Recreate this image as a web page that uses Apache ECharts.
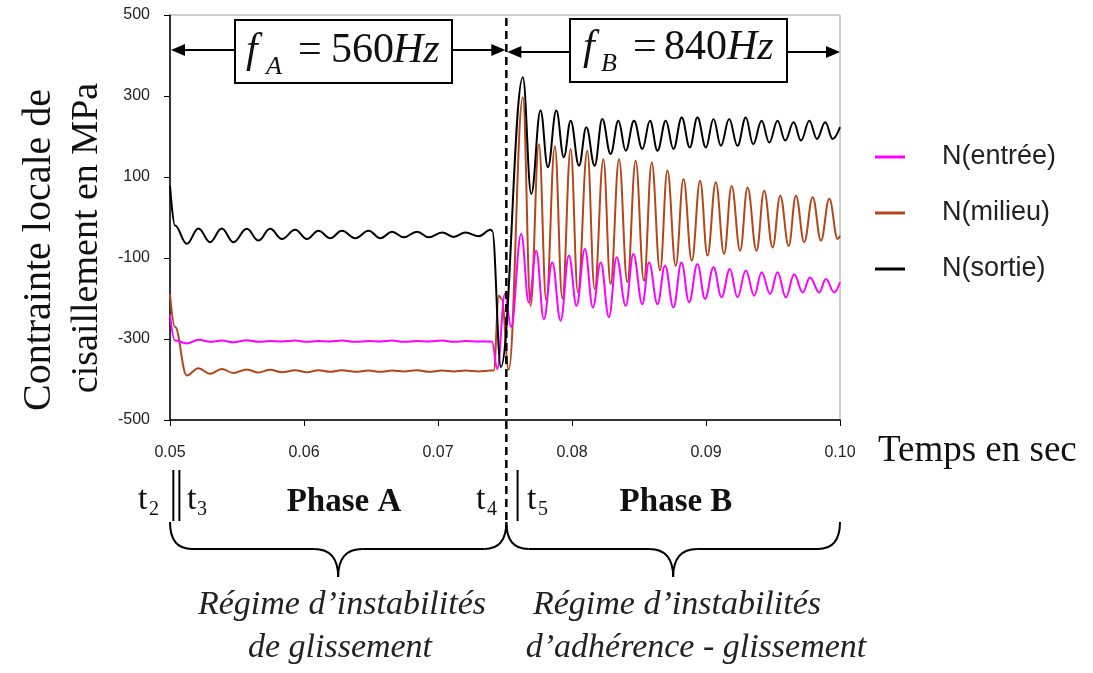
<!DOCTYPE html>
<html><head><meta charset="utf-8">
<script src="https://cdn.jsdelivr.net/npm/echarts@6/dist/echarts.min.js"></script>
<style>html,body{margin:0;padding:0;background:#fff}#c{width:1093px;height:673px}</style>
</head><body><div id="c"></div>
<script>
// ---- data (time in s, stress in MPa) ----
const xTickLabels = ['0.05','0.06','0.07','0.08','0.09','0.10'];
const seriesNames = ['N(entrée)','N(milieu)','N(sortie)'];

// Phase A sample times (shared)
const tPhaseA = [0.05000,0.05037,0.05125,0.05212,0.05299,0.05386,0.05473,0.05573,0.05660,0.05747,0.05835,0.05934,0.06022,0.06108,0.06196,0.06283,0.06383,0.06482,0.06570,0.06657,0.06744,0.06844,0.06931,0.07031,0.07117,0.07205,0.07304,0.07392];

const sortieA = [78,-20,-65,-27,-61,-27,-61,-28,-57,-28,-53,-30,-53,-33,-51,-33,-51,-33,-51,-35,-49,-35,-49,-37,-48,-37,-46,-30];
const milieuA = [-189,-270,-390,-372,-386,-374,-384,-375,-383,-376,-382,-377,-382,-377,-381,-377,-381,-378,-381,-378,-380,-377,-381,-378,-380,-378,-380,-378];
const entreeA = [-240,-304,-311,-302,-307,-304,-308,-303,-307,-305,-306,-304,-307,-305,-306,-304,-307,-305,-306,-304,-307,-305,-306,-304,-307,-305,-306,-306];

// Transition + phase B
const sortieTB = [0.07404,0.07470,0.07633,0.07696,0.07765,0.07820,0.07883,0.07939,0.07990,0.08052,0.08107,0.08169,0.08226,0.08288,0.08346,0.08401,0.08463,0.08525,0.08582,0.08638,0.08700,0.08757,0.08819,0.08879,0.08936,0.08999,0.09056,0.09111,0.09173,0.09235,0.09297,0.09352,0.09415,0.09472,0.09534,0.09591,0.09654,0.09709,0.09771,0.09828,0.09890,0.09945,0.10000];
const sortieB = [-33,-369,346,58,264,124,264,149,239,128,223,128,243,157,239,165,239,169,239,165,239,169,247,173,247,173,243,177,243,177,247,181,239,185,239,190,235,190,239,194,235,194,223];

const milieuTB = [0.07416,0.07454,0.07475,0.07528,0.07633,0.07691,0.07753,0.07808,0.07872,0.07928,0.07990,0.08044,0.08114,0.08169,0.08234,0.08288,0.08351,0.08413,0.08475,0.08537,0.08595,0.08657,0.08712,0.08774,0.08832,0.08894,0.08956,0.09011,0.09073,0.09135,0.09191,0.09255,0.09310,0.09377,0.09434,0.09497,0.09554,0.09617,0.09671,0.09733,0.09796,0.09858,0.09920,0.09983,0.10000];
const milieuB = [-378,-193,-201,-376,297,-218,181,-205,176,-200,169,-185,165,-177,144,-164,144,-160,140,-156,136,-131,116,-119,95,-107,91,-94,87,-90,78,-82,74,-82,66,-74,54,-70,54,-61,50,-57,46,-53,-45];

const entreeTB = [0.07404,0.07442,0.07500,0.07545,0.07621,0.07678,0.07733,0.07790,0.07853,0.07915,0.07977,0.08034,0.08096,0.08156,0.08214,0.08276,0.08333,0.08401,0.08458,0.08525,0.08575,0.08638,0.08694,0.08757,0.08817,0.08874,0.08936,0.08993,0.09056,0.09116,0.09178,0.09235,0.09297,0.09360,0.09415,0.09479,0.09534,0.09596,0.09658,0.09721,0.09776,0.09845,0.09895,0.09957,0.10000];
const entreeB = [-307,-374,-188,-270,-41,-210,-82,-251,-111,-255,-94,-218,-78,-222,-111,-246,-98,-218,-90,-214,-111,-214,-119,-222,-111,-209,-115,-201,-123,-197,-127,-197,-131,-193,-135,-189,-135,-197,-140,-185,-148,-185,-152,-185,-160];

// annotation instants (s)
const tMarks = {t2: 0.05025, t3: 0.0507, t4: 0.0751, t5: 0.07594};

function build(tA, vA, tB, vB) {
  return tA.map((t, i) => [t, vA[i]]).concat(tB.map((t, i) => [t, vB[i]]));
}

const SERIF = '"Liberation Serif","Times New Roman",serif';
const SANS = '"Liberation Sans",Arial,sans-serif';

const chart = echarts.init(document.getElementById('c'));
const lineCommon = {type:'line', showSymbol:false, symbol:'none', smooth:0.4, smoothMonotone:'x', animation:false};
chart.setOption({
  animation: false,
  backgroundColor: '#fff',
  grid: {left:170, top:15, width:670, height:405, show:true, borderColor:'#a0a0a0', borderWidth:1, backgroundColor:'transparent'},
  legend: {
    data: seriesNames, orient:'vertical', left:875, top:141, padding:0,
    icon:'rect', itemWidth:30, itemHeight:3, itemGap:24,
    textStyle:{fontFamily:SANS, fontSize:27, color:'#222', lineHeight:32, padding:[0,0,0,32]}
  },
  xAxis: {
    type:'value', min:0.05, max:0.10, interval:0.01,
    axisLine:{show:true, onZero:false, lineStyle:{color:'#000', width:1.5}},
    axisTick:{show:true, length:6, lineStyle:{color:'#000'}},
    splitLine:{show:false},
    axisLabel:{margin:25, fontFamily:SANS, fontSize:16, color:'#222',
      formatter: v => xTickLabels[Math.round((v - 0.05) / 0.01)]}
  },
  yAxis: {
    type:'value', min:-500, max:500, interval:200,
    axisLine:{show:true, onZero:false, lineStyle:{color:'#000', width:1.5}},
    axisTick:{show:true, length:6, lineStyle:{color:'#000'}},
    splitLine:{show:false},
    axisLabel:{margin:20, fontFamily:SANS, fontSize:16, color:'#222'}
  },
  series: [
    Object.assign({}, lineCommon, {name:seriesNames[1], z:2, color:'#b4461a', lineStyle:{width:2, color:'#b4461a'}, data: build(tPhaseA, milieuA, milieuTB, milieuB)}),
    Object.assign({}, lineCommon, {name:seriesNames[0], z:3, color:'#ff00ff', lineStyle:{width:2, color:'#ff00ff'}, data: build(tPhaseA, entreeA, entreeTB, entreeB)}),
    Object.assign({}, lineCommon, {name:seriesNames[2], z:4, color:'#000000', lineStyle:{width:2, color:'#000000'}, data: build(tPhaseA, sortieA, sortieTB, sortieB)})
  ]
});

const px = t => chart.convertToPixel({gridIndex:0}, [t, 0])[0];
const xL = px(0.05), xR = px(0.10), xS = px(tMarks.t4);
const xT2 = px(tMarks.t2), xT3 = px(tMarks.t3), xT5 = px(tMarks.t5);

function txt(x, y, text, o) {
  o = o || {};
  return {type:'text', x:x, y:y, rotation:o.rot || 0, z:10, style:{
    text:text, fill:o.color || '#111', fontFamily:o.family || SERIF, fontSize:o.size || 32,
    fontStyle:o.style || 'normal', fontWeight:o.weight || 'normal',
    align:o.align || 'left', verticalAlign:'middle', textAlign:o.align || 'left', textVerticalAlign:'middle'}};
}
function ln(x1, y1, x2, y2, w, dash) {
  return {type:'line', z:10, shape:{x1:x1, y1:y1, x2:x2, y2:y2}, style:{stroke:'#000', lineWidth:w || 2, lineDash:dash || null}};
}
function head(tipX, y, dir) {
  return {type:'polygon', z:11, shape:{points:[[tipX, y], [tipX - dir * 14, y - 6], [tipX - dir * 14, y + 6]]}, style:{fill:'#000'}};
}
function qb(x1, y1, cx, cy, x2, y2) {
  return {type:'bezierCurve', z:10, shape:{x1:x1, y1:y1, cpx1:cx, cpy1:cy, x2:x2, y2:y2}, style:{stroke:'#000', lineWidth:2, fill:null}};
}
function brace(xa, xb, yTop, yMid, yTip) {
  const xm = (xa + xb) / 2;
  return [
    qb(xa, yTop, xa, yMid, xa + 22, yMid),
    ln(xa + 22, yMid, xm - 24, yMid, 2),
    qb(xm - 24, yMid, xm, yMid, xm, yTip),
    qb(xm, yTip, xm, yMid, xm + 24, yMid),
    ln(xm + 24, yMid, xb - 22, yMid, 2),
    qb(xb - 22, yMid, xb, yMid, xb, yTop)
  ];
}

const g = [];
// dashed separator
g.push(ln(xS, 18, xS, 536, 2.5, [8, 5]));
// frequency boxes
g.push({type:'rect', z:9, shape:{x:235, y:20, width:217, height:63}, style:{fill:'#fff', stroke:'#000', lineWidth:2}});
g.push({type:'rect', z:9, shape:{x:570, y:19, width:217, height:63}, style:{fill:'#fff', stroke:'#000', lineWidth:2}});
// arrows
g.push(ln(xL + 10, 50, 235, 50, 2), head(xL + 1, 50, -1));
g.push(ln(452, 50, xS - 10, 50, 2), head(xS - 1, 50, 1));
g.push(ln(xS + 10, 52, 570, 52, 2), head(xS + 1, 52, -1));
g.push(ln(787, 52, xR - 10, 52, 2), head(xR, 52, 1));
// f_A = 560Hz
g.push(txt(246, 51, 'f', {size:42, style:'italic'}));
g.push(txt(266, 67, 'A', {size:26, style:'italic'}));
g.push(txt(298, 51, '=', {size:42}));
g.push(txt(331, 51, '560', {size:42}));
g.push(txt(393, 51, 'Hz', {size:42, style:'italic'}));
// f_B = 840Hz
g.push(txt(583, 48, 'f', {size:42, style:'italic'}));
g.push(txt(601, 64, 'B', {size:26, style:'italic'}));
g.push(txt(633, 48, '=', {size:42}));
g.push(txt(664, 48, '840', {size:42}));
g.push(txt(727, 48, 'Hz', {size:42, style:'italic'}));
// axis titles
g.push(txt(39, 250, 'Contrainte locale de', {size:40, align:'center', rot:Math.PI / 2}));
g.push(txt(87, 238, 'cisaillement en MPa', {size:38, align:'center', rot:Math.PI / 2}));
g.push(txt(878, 451, 'Temps en sec', {size:37}));
// phase markers
g.push(ln(xT2, 470, xT2, 521, 2), ln(xT3, 470, xT3, 521, 2), ln(xT5, 470, xT5, 521, 2));
g.push(txt(138, 500, 't', {size:34}), txt(149, 510, '2', {size:20}));
g.push(txt(187, 500, 't', {size:34}), txt(197, 510, '3', {size:20}));
g.push(txt(476, 500, 't', {size:34}), txt(487, 510, '4', {size:20}));
g.push(txt(527, 500, 't', {size:34}), txt(538, 510, '5', {size:20}));
g.push(txt(344, 502, 'Phase A', {size:33, weight:'bold', align:'center'}));
g.push(txt(676, 502, 'Phase B', {size:33, weight:'bold', align:'center'}));
// braces
brace(xL, xS, 522, 549, 577).forEach(e => g.push(e));
brace(xS, xR, 522, 549, 577).forEach(e => g.push(e));
// regime texts
g.push(txt(342, 605, 'Régime d’instabilités', {size:34, style:'italic', align:'center', color:'#222'}));
g.push(txt(340, 648, 'de glissement', {size:34, style:'italic', align:'center', color:'#222'}));
g.push(txt(677, 605, 'Régime d’instabilités', {size:34, style:'italic', align:'center', color:'#222'}));
g.push(txt(696, 648, 'd’adhérence - glissement', {size:34, style:'italic', align:'center', color:'#222'}));

chart.setOption({graphic: g});
</script>
</body></html>
